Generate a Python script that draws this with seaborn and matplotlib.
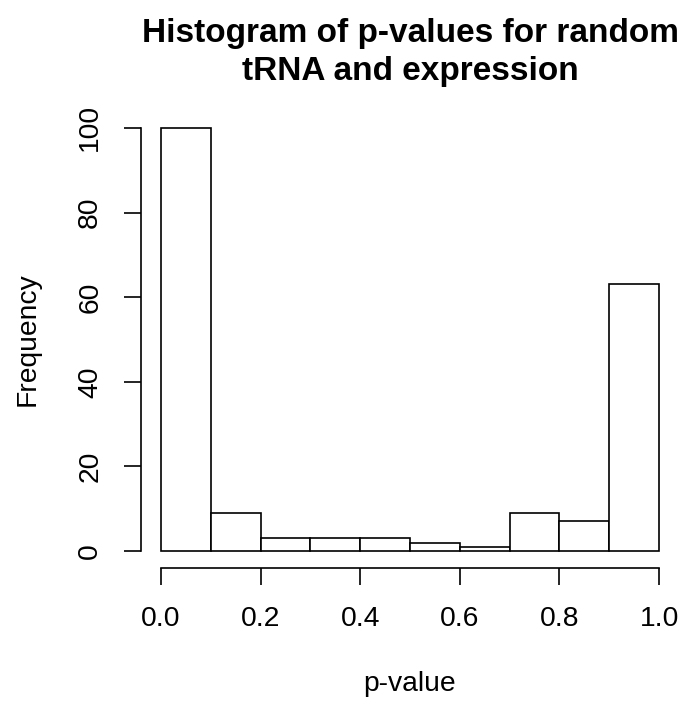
import matplotlib
matplotlib.use("Agg")
import matplotlib.pyplot as plt
import seaborn as sns
import numpy as np
import pandas as pd

# Data
bin_edges = [0.0, 0.1, 0.2, 0.3, 0.4, 0.5, 0.6, 0.7, 0.8, 0.9, 1.0]
counts = [100, 9, 3, 3, 3, 2, 1, 9, 7, 63]
x_ticks = [0.0, 0.2, 0.4, 0.6, 0.8, 1.0]
x_tick_labels = ["0.0", "0.2", "0.4", "0.6", "0.8", "1.0"]
y_ticks = [0, 20, 40, 60, 80, 100]
title = "Histogram of p-values for random\ntRNA and expression"

sns.set_style("white")
plt.rcParams['font.family'] = ['Liberation Sans', 'DejaVu Sans']
plt.rcParams['text.color'] = 'black'
plt.rcParams['axes.labelcolor'] = 'black'
plt.rcParams['xtick.color'] = 'black'
plt.rcParams['ytick.color'] = 'black'

centers = [(a + b) / 2 for a, b in zip(bin_edges[:-1], bin_edges[1:])]
df = pd.DataFrame({"p": centers, "n": counts})

fig = plt.figure(figsize=(6.79, 7.03), dpi=100)
ax = fig.add_axes([141/679, 1 - 568/703, (679-141)/679, (568-111)/703])

sns.histplot(data=df, x="p", weights="n", bins=bin_edges, ax=ax,
             color="white", edgecolor="black", linewidth=1.2, alpha=1)

ax.set_xlim(-0.04, 1.04)
ax.set_ylim(-4, 104)
for s in ["top", "right"]:
    ax.spines[s].set_visible(False)
ax.spines["left"].set_bounds(0, 100)
ax.spines["bottom"].set_bounds(0, 1)
for s in ["left", "bottom"]:
    ax.spines[s].set_color("black")
    ax.spines[s].set_linewidth(1.2)

fs = 20.3
ax.set_xticks(x_ticks)
ax.set_xticklabels(x_tick_labels, fontsize=fs, color="black")
ax.set_yticks(y_ticks)
ax.set_yticklabels([str(v) for v in y_ticks], fontsize=fs, rotation=90, va="center", color="black")
ax.tick_params(axis="both", direction="out", length=12.2, width=1.2, color="black",
               pad=15, bottom=True, left=True)

ax.set_xlabel("p-value", fontsize=fs, labelpad=28, color="black")
ax.set_ylabel("Frequency", fontsize=fs, labelpad=26, color="black")
ax.set_title(title, fontsize=24, fontweight="bold", pad=22, linespacing=1.3, color="black")

fig.savefig("out.png", dpi=100, facecolor="white")
